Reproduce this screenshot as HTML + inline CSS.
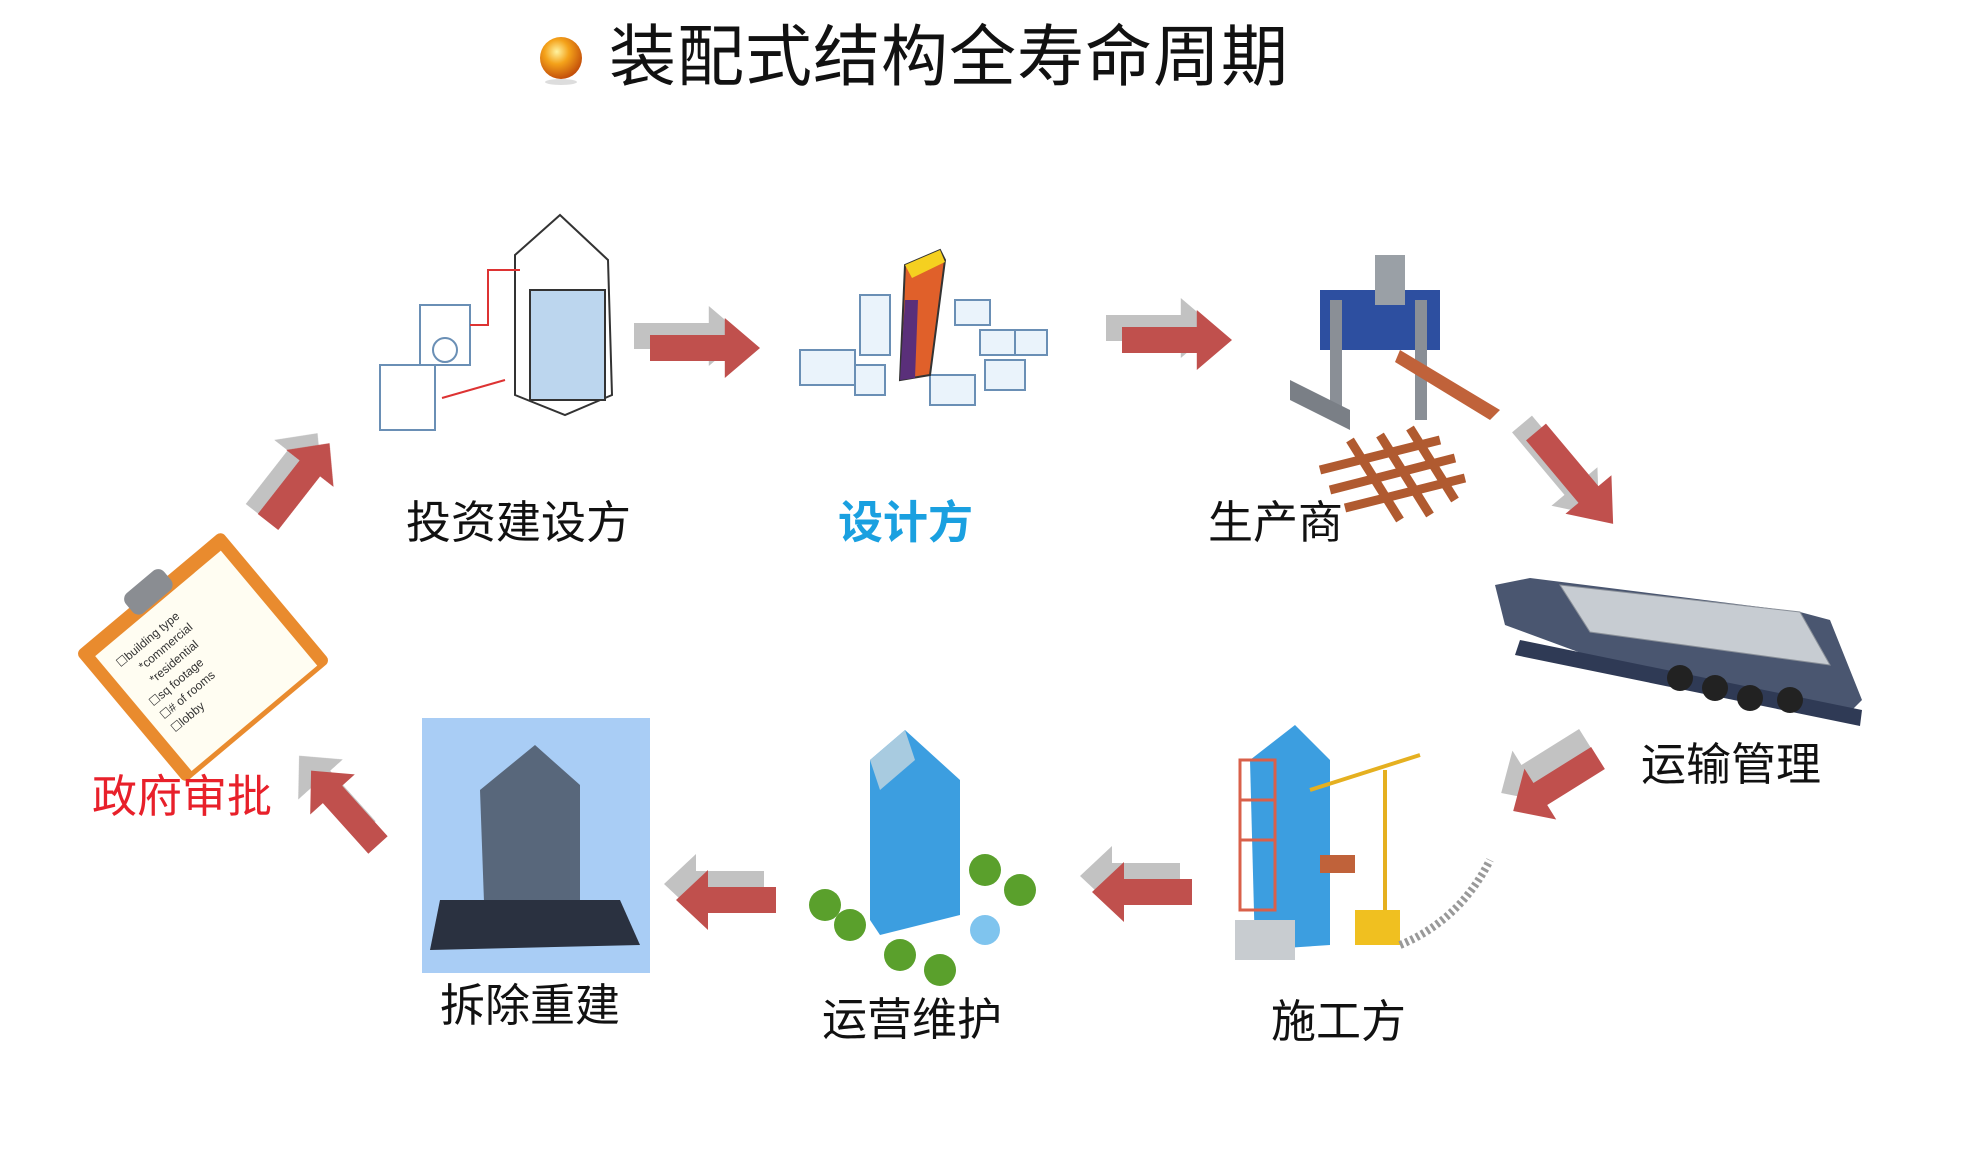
<!DOCTYPE html>
<html><head><meta charset="utf-8"><style>
html,body{margin:0;padding:0;background:#fff;}
body{width:1964px;height:1166px;position:relative;overflow:hidden;font-family:"Liberation Sans","Noto Sans CJK SC",sans-serif;}
.t{position:absolute;white-space:nowrap;line-height:1;color:#111;}
</style></head><body>
<svg width="1964" height="1166" style="position:absolute;left:0;top:0">
<defs>
<radialGradient id="orb" cx="40%" cy="35%" r="65%"><stop offset="0" stop-color="#fff3a0"/><stop offset=".45" stop-color="#f4a21a"/><stop offset="1" stop-color="#c4500a"/></radialGradient>
<polygon id="ar" points="0,-13 68,-13 68,-30 100,0 68,30 68,13 0,13"/>
</defs>
<circle cx="561" cy="58" r="21" fill="url(#orb)"/>
<ellipse cx="561" cy="82" rx="16" ry="3" fill="#ddd"/>
<!-- arrows: shadow then red -->
<g fill="#b8b8b8" opacity=".85">
<use href="#ar" transform="translate(256,512) rotate(-52) scale(1.0,1)"/>
<use href="#ar" transform="translate(634,336) scale(1.1,1)"/>
<use href="#ar" transform="translate(1106,328) scale(1.1,1)"/>
<use href="#ar" transform="translate(1522,424) rotate(50) scale(1.2,1)"/>
<use href="#ar" transform="translate(1586,740) rotate(148) scale(1.0,1)"/>
<use href="#ar" transform="translate(1180,876) rotate(180) scale(1.0,1)"/>
<use href="#ar" transform="translate(764,884) rotate(180) scale(1.0,1)"/>
<use href="#ar" transform="translate(366,830) rotate(-132) scale(1.0,1)"/>
</g>
<g fill="#c0504d">
<use href="#ar" transform="translate(268,522) rotate(-52) scale(1.0,1)"/>
<use href="#ar" transform="translate(650,348) scale(1.1,1)"/>
<use href="#ar" transform="translate(1122,340) scale(1.1,1)"/>
<use href="#ar" transform="translate(1536,432) rotate(50) scale(1.2,1)"/>
<use href="#ar" transform="translate(1598,758) rotate(148) scale(1.0,1)"/>
<use href="#ar" transform="translate(1192,892) rotate(180) scale(1.0,1)"/>
<use href="#ar" transform="translate(776,900) rotate(180) scale(1.0,1)"/>
<use href="#ar" transform="translate(378,845) rotate(-132) scale(1.0,1)"/>
</g>
<!-- building 1 -->
<g stroke="#333" stroke-width="2" fill="#fff">
<polygon points="515,255 560,215 608,260 612,395 565,415 515,395"/>
<rect x="530" y="290" width="75" height="110" fill="#bcd6ee"/>
<rect x="420" y="305" width="50" height="60" fill="none" stroke="#6a8fb5"/>
<circle cx="445" cy="350" r="12" fill="none" stroke="#6a8fb5"/>
<rect x="380" y="365" width="55" height="65" fill="none" stroke="#6a8fb5"/>
</g>
<polyline points="470,325 488,325 488,270 520,270" fill="none" stroke="#d33" stroke-width="2"/>
<line x1="442" y1="398" x2="505" y2="380" stroke="#d33" stroke-width="2"/>
<!-- design -->
<g stroke="#6a8fb5" stroke-width="2" fill="#eaf3fb">
<rect x="860" y="295" width="30" height="60"/>
<rect x="800" y="350" width="55" height="35"/>
<rect x="855" y="365" width="30" height="30"/>
<rect x="955" y="300" width="35" height="25"/>
<rect x="980" y="330" width="35" height="25"/>
<rect x="930" y="375" width="45" height="30"/>
<rect x="985" y="360" width="40" height="30"/>
<rect x="1015" y="330" width="32" height="25"/>
</g>
<polygon points="905,265 940,250 945,260 930,375 900,380" fill="#e0602a" stroke="#333" stroke-width="2"/>
<polygon points="905,265 940,250 945,262 912,278" fill="#f5d020"/>
<polygon points="900,380 905,300 918,300 915,378" fill="#5a2f7a"/>
<!-- factory -->
<g>
<rect x="1320" y="290" width="120" height="60" fill="#2d4fa0"/>
<rect x="1330" y="300" width="12" height="120" fill="#8a8f96"/>
<rect x="1415" y="300" width="12" height="120" fill="#8a8f96"/>
<rect x="1375" y="255" width="30" height="50" fill="#9aa0a6"/>
<polygon points="1290,380 1350,410 1350,430 1290,400" fill="#7a7f86"/>
<polygon points="1400,350 1500,410 1490,420 1395,362" fill="#c0623a"/>
<g stroke="#b05a30" stroke-width="9"><line x1="1320" y1="470" x2="1440" y2="440"/><line x1="1330" y1="490" x2="1455" y2="458"/><line x1="1345" y1="508" x2="1465" y2="478"/><line x1="1350" y1="440" x2="1400" y2="520"/><line x1="1380" y1="435" x2="1430" y2="515"/><line x1="1410" y1="428" x2="1455" y2="500"/></g>
</g>
<!-- truck -->
<polygon points="1495,585 1530,578 1800,612 1830,620 1862,700 1850,712 1600,660 1505,625" fill="#4a5670"/>
<polygon points="1560,585 1800,612 1830,665 1590,632" fill="#c7ccd2" stroke="#8a9099"/>
<polygon points="1520,640 1862,710 1860,726 1515,655" fill="#2f3a55"/>
<g fill="#222"><circle cx="1680" cy="678" r="13"/><circle cx="1715" cy="688" r="13"/><circle cx="1750" cy="698" r="13"/><circle cx="1790" cy="700" r="13"/></g>
<!-- clipboard -->
<g transform="translate(203,657) rotate(-40)">
<rect x="-95" y="-85" width="190" height="170" rx="6" fill="#e98b2e"/>
<rect x="-82" y="-70" width="164" height="150" fill="#fffdf2"/>
<rect x="-25" y="-98" width="50" height="26" rx="8" fill="#8a8d92"/>
<g font-size="12" fill="#333" font-family="Liberation Sans,sans-serif">
<text x="-70" y="-45">☐building type</text><text x="-55" y="-28">*commercial</text><text x="-55" y="-11">*residential</text><text x="-70" y="6">☐sq footage</text><text x="-70" y="23">☐# of rooms</text><text x="-70" y="40">☐lobby</text></g>
</g>
<!-- demolition -->
<rect x="422" y="718" width="228" height="255" fill="#a9cdf5"/>
<polygon points="480,790 535,745 580,785 580,920 485,930" fill="#4a5565" opacity=".85"/>
<polygon points="440,900 620,900 640,945 430,950" fill="#2a3140"/>
<!-- operation -->
<g>
<polygon points="870,760 905,730 960,780 960,915 880,935 870,920" fill="#3c9ee0"/>
<polygon points="870,760 905,730 915,760 880,790" fill="#a8cbe0"/>
<g fill="#5aa02c"><circle cx="825" cy="905" r="16"/><circle cx="850" cy="925" r="16"/><circle cx="985" cy="870" r="16"/><circle cx="1020" cy="890" r="16"/><circle cx="900" cy="955" r="16"/><circle cx="940" cy="970" r="16"/></g>
<circle cx="985" cy="930" r="15" fill="#7fc4ee"/>
</g>
<!-- construction -->
<g>
<polygon points="1250,760 1295,725 1330,760 1330,945 1255,950" fill="#3c9ee0"/>
<g stroke="#d9604a" stroke-width="3" fill="none"><rect x="1240" y="760" width="35" height="150"/><line x1="1240" y1="800" x2="1275" y2="800"/><line x1="1240" y1="840" x2="1275" y2="840"/></g>
<g stroke="#e5b020" stroke-width="4"><line x1="1385" y1="770" x2="1385" y2="930"/><line x1="1310" y1="790" x2="1420" y2="755"/></g>
<rect x="1320" y="855" width="35" height="18" fill="#c0623a"/>
<rect x="1235" y="920" width="60" height="40" fill="#c8ccd0"/>
<rect x="1355" y="910" width="45" height="35" fill="#f0c020"/>
<path d="M1400,945 Q1460,920 1490,860" stroke="#999" stroke-width="8" fill="none" stroke-dasharray="3 3"/>
</g>
</svg>
<div class="t" style="left:609px;top:24px;font-size:67px;letter-spacing:1px">装配式结构全寿命周期</div>
<div class="t" style="left:406px;top:500px;font-size:45px">投资建设方</div>
<div class="t" style="left:838px;top:500px;font-size:45px;color:#1aa0e0;font-weight:bold">设计方</div>
<div class="t" style="left:1208px;top:500px;font-size:45px">生产商</div>
<div class="t" style="left:1641px;top:742px;font-size:45px">运输管理</div>
<div class="t" style="left:1271px;top:999px;font-size:45px">施工方</div>
<div class="t" style="left:822px;top:997px;font-size:45px">运营维护</div>
<div class="t" style="left:440px;top:983px;font-size:45px">拆除重建</div>
<div class="t" style="left:92px;top:774px;font-size:45px;color:#e8202a">政府审批</div>
</body></html>
